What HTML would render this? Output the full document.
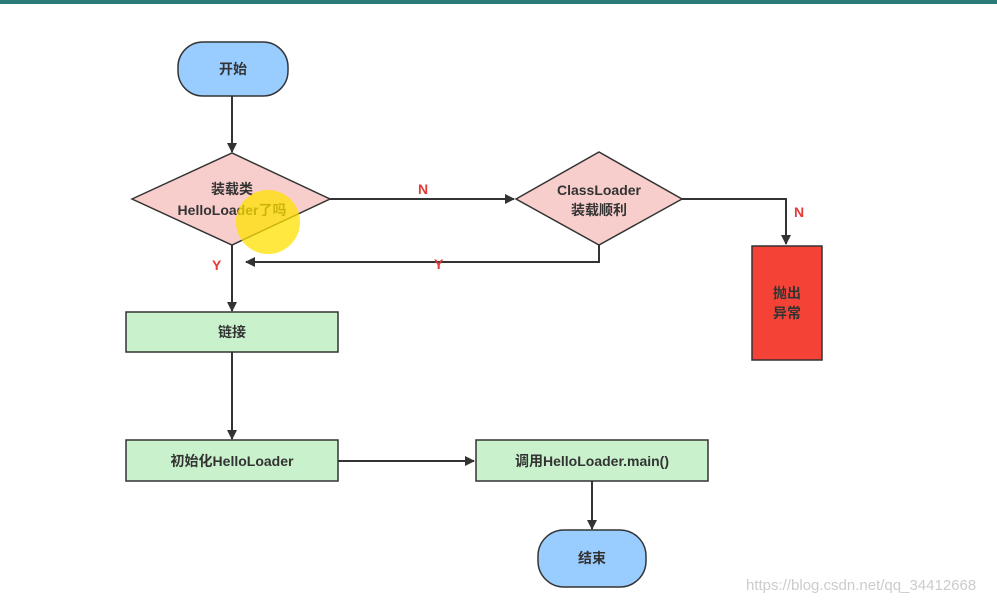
<!DOCTYPE html>
<html><head><meta charset="utf-8"><style>
body{margin:0;background:#fff}
svg{display:block}
text{font-family:"Liberation Sans","Noto Sans CJK SC",sans-serif;font-weight:bold;font-size:14px;fill:#333}
</style></head><body>
<svg width="997" height="607" viewBox="0 0 997 607">
<defs><marker id="a" markerWidth="10" markerHeight="10" refX="9" refY="5" orient="auto" markerUnits="userSpaceOnUse"><path d="M0,0 L10,5 L0,10 z" fill="#333"/></marker></defs>
<rect x="0" y="0" width="997" height="4" fill="#2a7a78"/>
<g stroke="#333" stroke-width="2" fill="none">
<line x1="232" y1="96" x2="232" y2="152" marker-end="url(#a)"/>
<line x1="330" y1="199" x2="514" y2="199" marker-end="url(#a)"/>
<polyline points="682,199 786,199 786,244" marker-end="url(#a)"/>
<polyline points="599,245 599,262 246,262" marker-end="url(#a)"/>
<line x1="232" y1="245" x2="232" y2="311" marker-end="url(#a)"/>
<line x1="232" y1="352" x2="232" y2="439" marker-end="url(#a)"/>
<line x1="338" y1="461" x2="474" y2="461" marker-end="url(#a)"/>
<line x1="592" y1="481" x2="592" y2="529" marker-end="url(#a)"/>
</g>
<rect x="178" y="42" width="110" height="54" rx="25" fill="#99ccff" stroke="#333" stroke-width="1.5"/>
<text x="233" y="74" text-anchor="middle">开始</text>
<polygon points="132,199 232,153 330,199 232,245" fill="#f8cecc" stroke="#333" stroke-width="1.5"/>
<text x="232" y="194" text-anchor="middle">装载类</text>
<text x="232" y="215" text-anchor="middle">HelloLoader了吗</text>
<circle cx="268" cy="222" r="32" fill="#ffe000" opacity="0.75"/>
<polygon points="516,199 599,152 682,199 599,245" fill="#f8cecc" stroke="#333" stroke-width="1.5"/>
<text x="599" y="195" text-anchor="middle">ClassLoader</text>
<text x="599" y="215" text-anchor="middle">装载顺利</text>
<rect x="752" y="246" width="70" height="114" fill="#f44336" stroke="#333" stroke-width="1.5"/>
<text x="787" y="298" text-anchor="middle">抛出</text>
<text x="787" y="318" text-anchor="middle">异常</text>
<rect x="126" y="312" width="212" height="40" fill="#c9f2cc" stroke="#333" stroke-width="1.5"/>
<text x="232" y="337" text-anchor="middle">链接</text>
<rect x="126" y="440" width="212" height="41" fill="#c9f2cc" stroke="#333" stroke-width="1.5"/>
<text x="232" y="466" text-anchor="middle">初始化HelloLoader</text>
<rect x="476" y="440" width="232" height="41" fill="#c9f2cc" stroke="#333" stroke-width="1.5"/>
<text x="592" y="466" text-anchor="middle">调用HelloLoader.main()</text>
<rect x="538" y="530" width="108" height="57" rx="26" fill="#99ccff" stroke="#333" stroke-width="1.5"/>
<text x="592" y="563" text-anchor="middle">结束</text>
<text x="418" y="194" style="fill:#e53935">N</text>
<text x="794" y="217" style="fill:#e53935">N</text>
<text x="212" y="270" style="fill:#e53935">Y</text>
<text x="434" y="269" style="fill:#e53935">Y</text>
<text x="746" y="590" style="font-weight:normal;font-size:15px;fill:#ccc">https://blog.csdn.net/qq_34412668</text>
</svg>
</body></html>
